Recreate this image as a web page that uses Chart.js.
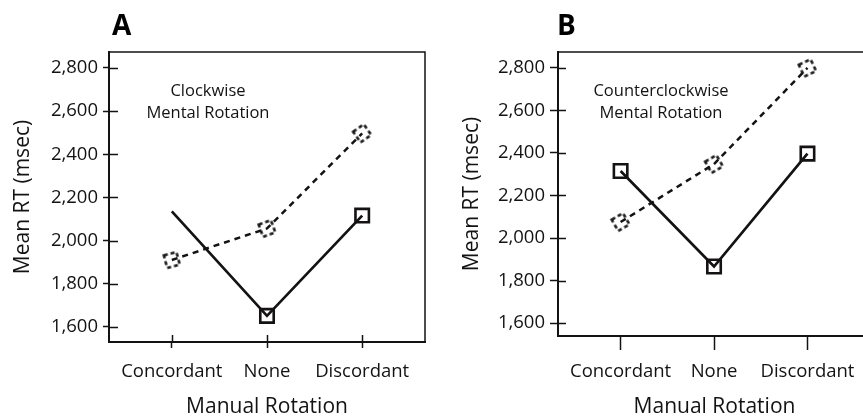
<!DOCTYPE html>
<html>
<head>
<meta charset="utf-8">
<script src="https://cdn.jsdelivr.net/npm/chart.js@4.4.1/dist/chart.umd.min.js"></script>
<style>
  html, body { margin: 0; padding: 0; background: #fff; width: 863px; height: 418px; overflow: hidden; }
  #wrapA { position: absolute; left: 0; top: 0; width: 430px; height: 418px; }
  #wrapB { position: absolute; left: 430px; top: 0; width: 450px; height: 418px; }
</style>
</head>
<body>
<div id="wrapA"><canvas id="chartA" width="430" height="418"></canvas></div>
<div id="wrapB"><canvas id="chartB" width="450" height="418"></canvas></div>
<script>
// ---- data ----
const categories = ['Concordant', 'None', 'Discordant'];
const yTickValues = [1600, 1800, 2000, 2200, 2400, 2600, 2800];
const panelLetters = ['A', 'B'];
const panelNotes = [['Clockwise', 'Mental Rotation'], ['Counterclockwise', 'Mental Rotation']];
const xAxisTitle = 'Manual Rotation';
const yAxisTitle = 'Mean RT (msec)';

// Panel A (clockwise mental rotation)
const cwSolid = [2135, 1651, 2116];
const cwDashed = [1910, 2056, 2497];
// Panel B (counterclockwise mental rotation)
const ccwSolid = [2315, 1866, 2397];
const ccwDashed = [2075, 2348, 2800];

// ---- styling helpers ----
const INK = '#141213';
const FONT = "'Open Sans', 'DejaVu Sans', sans-serif";

function dashedMarker() {
  const c = document.createElement('canvas');
  c.width = 22; c.height = 22;
  const g = c.getContext('2d');
  g.strokeStyle = INK;
  g.lineWidth = 2.5;
  g.setLineDash([4, 3]);
  g.strokeRect(11 - 6.5, 11 - 6.5, 13, 13);
  return c;
}
const dashImg = dashedMarker();

function fmt(v) { return String(v).replace(/\B(?=(\d{3})+(?!\d))/g, ','); }

function makeChart(id, solid, dashed, L) {
  const extras = {
    id: 'extras',
    afterDraw(chart) {
      const ctx = chart.ctx;
      const a = chart.chartArea;
      ctx.save();
      ctx.strokeStyle = INK;
      ctx.lineWidth = 1.5;
      ctx.beginPath();
      ctx.moveTo(a.left, a.top); ctx.lineTo(a.right, a.top); ctx.lineTo(a.right, a.bottom);
      ctx.stroke();
      const ys = chart.scales.y, xs = chart.scales.x;
      ctx.beginPath();
      ys.ticks.forEach(t => {
        const p = Math.round(ys.getPixelForValue(t.value)) + 0.5;
        ctx.moveTo(a.left, p); ctx.lineTo(a.left + L.innerY, p);
      });
      xs.ticks.forEach(t => {
        const p = Math.round(xs.getPixelForValue(t.value)) + 0.5;
        ctx.moveTo(p, a.bottom); ctx.lineTo(p, a.bottom - L.innerX);
      });
      ctx.stroke();
      ctx.fillStyle = '#000';
      ctx.font = "bold 28px " + FONT;
      ctx.textBaseline = 'alphabetic';
      ctx.textAlign = 'left';
      ctx.fillText(L.letter, L.letterX, 35);
      ctx.fillStyle = INK;
      ctx.font = "16.5px " + FONT;
      ctx.textAlign = 'center';
      ctx.textBaseline = 'middle';
      const cx = a.left + L.noteDX;
      ctx.fillText(L.note[0], cx, 91);
      ctx.fillText(L.note[1], cx, 113);
      ctx.restore();
    }
  };

  return new Chart(document.getElementById(id), {
    type: 'line',
    data: {
      datasets: [
        {
          data: dashed.map((v, i) => ({ x: i, y: v })),
          borderColor: INK,
          borderWidth: 2.5,
          borderDash: [6, 5],
          pointStyle: dashImg,
          pointRotation: L.dashRot,
          pointRadius: 7,
          tension: 0
        },
        {
          data: solid.map((v, i) => ({ x: i, y: v })),
          borderColor: INK,
          borderWidth: 2.7,
          pointStyle: 'rect',
          pointRadius: L.solidRadius,
          pointBorderWidth: 2.6,
          pointBorderColor: INK,
          pointBackgroundColor: 'rgba(0,0,0,0)',
          tension: 0
        }
      ]
    },
    options: {
      responsive: false,
      animation: false,
      devicePixelRatio: 1,
      layout: { autoPadding: false, padding: { top: 52, right: L.padRight, left: 0, bottom: 0 } },
      plugins: { legend: { display: false }, tooltip: { enabled: false } },
      scales: {
        x: {
          type: 'linear',
          min: L.xMin, max: L.xMax,
          afterBuildTicks: s => { s.ticks = categories.map((c, i) => ({ value: i })); },
          afterFit: s => { s.height = L.xHeight; s.paddingLeft = 0; s.paddingRight = 0; },
          ticks: {
            callback: v => categories[v],
            color: INK,
            font: { family: FONT, size: 18.5 },
            padding: L.xTickPad,
            maxRotation: 0, autoSkip: false
          },
          grid: { display: true, drawOnChartArea: false, drawTicks: true, tickLength: L.outerX, tickWidth: 1.5, tickColor: INK },
          border: { display: true, color: INK, width: 2 },
          title: { display: true, text: xAxisTitle, color: INK, font: { family: FONT, size: 21, lineHeight: 1 }, padding: { top: 0, bottom: 0 } }
        },
        y: {
          type: 'linear',
          min: L.yMin, max: L.yMax,
          afterBuildTicks: s => { s.ticks = yTickValues.map(v => ({ value: v })); },
          afterFit: s => { s.width = L.yWidth; s.paddingTop = 0; s.paddingBottom = 0; },
          ticks: {
            callback: v => fmt(v),
            color: INK,
            font: { family: FONT, size: 18.5 },
            padding: 5
          },
          grid: { display: true, drawOnChartArea: false, drawTicks: true, tickLength: L.outerY, tickWidth: 1.5, tickColor: INK },
          border: { display: true, color: INK, width: 2 },
          title: { display: true, text: yAxisTitle, color: INK, font: { family: FONT, size: 21, lineHeight: 1 }, padding: { top: L.yTitlePad, bottom: 0 } }
        }
      }
    },
    plugins: [extras]
  });
}

makeChart('chartA', cwSolid, cwDashed, {
  letter: panelLetters[0], letterX: 112, note: panelNotes[0], noteDX: 99,
  padRight: 5, xMin: -0.66, xMax: 2.66, yMin: 1530, yMax: 2874,
  xHeight: 76, yWidth: 109, xTickPad: 13, outerX: 6, innerX: 7, outerY: 6, innerY: 9,
  yTitlePad: 12.5, dashRot: [-15, -20, -35], solidRadius: [0, 9.5, 9.5]
});
makeChart('chartB', ccwSolid, ccwDashed, {
  letter: panelLetters[1], letterX: 127, note: panelNotes[1], noteDX: 103,
  padRight: 9, xMin: -0.67, xMax: 2.68, yMin: 1539, yMax: 2875,
  xHeight: 82, yWidth: 128, xTickPad: 11, outerX: 14, innerX: 0, outerY: 8, innerY: 8,
  yTitlePad: 32, dashRot: [-30, -30, -25], solidRadius: [9.5, 9.5, 9.5]
});
</script>
</body>
</html>
